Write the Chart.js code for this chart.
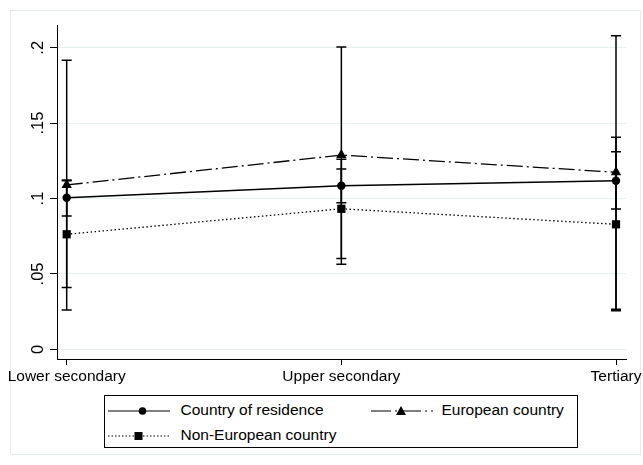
<!DOCTYPE html>
<html>
<head>
<meta charset="utf-8">
<script src="https://cdn.jsdelivr.net/npm/chart.js@4/dist/chart.umd.min.js"></script>
<style>
  html, body { margin:0; padding:0; background:#ffffff; }
  #wrap { position:relative; width:643px; height:465px; font-family:"Liberation Sans", Arial, Helvetica, sans-serif; }
  #frame { position:absolute; left:10px; top:10px; width:631px; height:445px; border:1px solid #e4ebed; box-sizing:border-box; }
  #c { position:absolute; left:0; top:0; }
  #legend { position:absolute; left:104px; top:395px; width:474px; height:53px; border:1px solid #000; box-sizing:border-box; background:#fff; }
  .lt { position:absolute; font-size:15.5px; line-height:18px; color:#000; white-space:nowrap; }
  .ls { position:absolute; }
</style>
</head>
<body>
<div id="wrap">
  <div id="frame"></div>
  <canvas id="c" width="643" height="465"></canvas>
  <div id="legend"></div>
</div>
<script>
// ---- data ----
const categories = ['Lower secondary', 'Upper secondary', 'Tertiary'];

const residence   = [0.1005, 0.1085, 0.1118];
const residenceLo = [0.0884, 0.0972, 0.0930];
const residenceHi = [0.1123, 0.1196, 0.1310];

const european   = [0.1090, 0.1288, 0.1174];
const europeanLo = [0.0260, 0.0564, 0.0265];
const europeanHi = [0.1918, 0.2005, 0.2080];

const nonEuropean   = [0.0763, 0.0932, 0.0829];
const nonEuropeanLo = [0.0410, 0.0603, 0.0255];
const nonEuropeanHi = [0.1118, 0.1260, 0.1406];

const seriesNames = ['Country of residence', 'European country', 'Non-European country'];
const yTickValues = [0, 0.05, 0.1, 0.15, 0.2];
const yTickLabels = ['0', '.05', '.1', '.15', '.2'];

const FONT = '"Liberation Sans", Arial, Helvetica, sans-serif';

function toPoints(vals) { return vals.map((v, i) => ({ x: i, y: v })); }

const errorBarPlugin = {
  id: 'errorBars',
  beforeDatasetsDraw(chart) {
    const ctx = chart.ctx;
    const xs = chart.scales.x, ys = chart.scales.y;
    ctx.save();
    ctx.strokeStyle = '#000';
    ctx.lineWidth = 1.5;
    ctx.setLineDash([]);
    chart.data.datasets.forEach(ds => {
      ds.lo.forEach((lo, i) => {
        const hi = ds.hi[i];
        const x = xs.getPixelForValue(i);
        const y1 = ys.getPixelForValue(lo), y2 = ys.getPixelForValue(hi);
        ctx.beginPath();
        ctx.moveTo(x, y1); ctx.lineTo(x, y2);
        ctx.moveTo(x - 5, y1); ctx.lineTo(x + 5, y1);
        ctx.moveTo(x - 5, y2); ctx.lineTo(x + 5, y2);
        ctx.stroke();
      });
    });
    ctx.restore();
  }
};

const chart = new Chart(document.getElementById('c'), {
  type: 'line',
  data: {
    datasets: [
      { label: seriesNames[0], data: toPoints(residence), lo: residenceLo, hi: residenceHi,
        borderColor: '#000', backgroundColor: '#000', borderWidth: 1.4,
        pointStyle: 'circle', pointRadius: 4.2, pointBorderWidth: 0, pointBackgroundColor: '#000' },
      { label: seriesNames[1], data: toPoints(european), lo: europeanLo, hi: europeanHi,
        borderColor: '#000', backgroundColor: '#000', borderWidth: 1.3, borderDash: [16, 4, 2, 4],
        pointStyle: 'triangle', pointRadius: 6, pointBorderWidth: 0, pointBackgroundColor: '#000' },
      { label: seriesNames[2], data: toPoints(nonEuropean), lo: nonEuropeanLo, hi: nonEuropeanHi,
        borderColor: '#000', backgroundColor: '#000', borderWidth: 1.3, borderDash: [1.5, 2.5],
        pointStyle: 'rect', pointRadius: 5.8, pointBorderWidth: 0, pointBackgroundColor: '#000' }
    ]
  },
  options: {
    responsive: false,
    animation: false,
    devicePixelRatio: 1,
    layout: { padding: { left: 0, top: 25, right: 17, bottom: 0 } },
    plugins: { legend: { display: false }, tooltip: { enabled: false } },
    elements: { line: { tension: 0 } },
    scales: {
      x: {
        type: 'linear', min: -0.0353, max: 2.0364,
        afterBuildTicks(s) { s.ticks = categories.map((c, i) => ({ value: i })); },
        afterFit(s) { s.height = 106; s.paddingLeft = 0; s.paddingRight = 0; },
        ticks: { autoSkip: false, maxRotation: 0, minRotation: 0, padding: 2, color: '#000',
          font: { family: FONT, size: 15.5 },
          callback: (v) => categories[v] },
        grid: { drawOnChartArea: false, drawTicks: true, tickLength: 6, tickColor: '#000', tickWidth: 1 },
        border: { display: true, color: '#000', width: 1 }
      },
      y: {
        type: 'linear', min: -0.00643, max: 0.2151,
        afterBuildTicks(s) { s.ticks = yTickValues.map(v => ({ value: v })); },
        afterFit(s) { s.width = 57; s.paddingTop = 0; s.paddingBottom = 0; },
        ticks: { autoSkip: false, minRotation: 90, maxRotation: 90, crossAlign: 'center', padding: 0, color: '#000',
          font: { family: FONT, size: 16.5 },
          callback: (v, i) => yTickLabels[i] },
        grid: { color: '#e8eff1', lineWidth: 1, tickLength: 7, tickColor: '#000', tickWidth: 1 },
        border: { display: true, color: '#000', width: 1 }
      }
    }
  },
  plugins: [errorBarPlugin]
});

// ---- HTML legend ----
const legend = document.getElementById('legend');
const L0 = { x: 104, y: 395 };
function sample(left, cy, dash, marker, mx) {
  const w = 62, h = 14;
  let m = '';
  const px = mx - left, py = h / 2;
  if (marker === 'circle') m = `<circle cx="${px}" cy="${py}" r="3.8" fill="#000"/>`;
  if (marker === 'rect') m = `<rect x="${px - 4}" y="${py - 4}" width="8" height="8" fill="#000"/>`;
  if (marker === 'triangle') m = `<polygon points="${px - 5},${py + 4} ${px + 5},${py + 4} ${px},${py - 5}" fill="#000"/>`;
  const svg = `<svg class="ls" style="left:${left - L0.x - 1}px;top:${cy - h / 2 - L0.y - 1}px" width="${w}" height="${h}">
    <line x1="0" y1="${py}" x2="${w}" y2="${py}" stroke="#000" stroke-width="1.2" ${dash ? `stroke-dasharray="${dash}"` : ''}/>${m}</svg>`;
  legend.insertAdjacentHTML('beforeend', svg);
}
function text(left, top, str) {
  legend.insertAdjacentHTML('beforeend', `<div class="lt" style="left:${left - L0.x - 1}px;top:${top - L0.y - 1}px">${str}</div>`);
}
sample(108, 411, '', 'circle', 142.5);
text(180.5, 401, seriesNames[0]);
sample(371, 411, '20 4 2 4', 'triangle', 401);
text(441.5, 401, seriesNames[1]);
sample(108, 435.5, '1.5 2', 'rect', 138.5);
text(180.5, 426, seriesNames[2]);
</script>
</body>
</html>
